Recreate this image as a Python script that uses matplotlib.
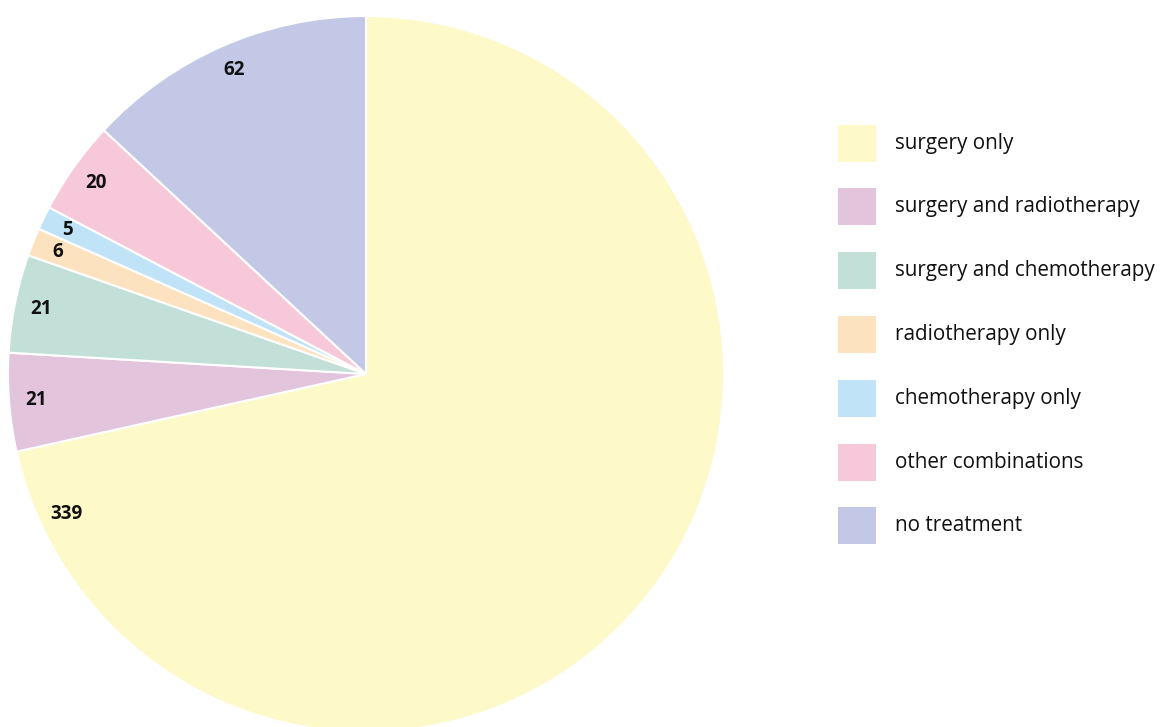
import numpy as np
import matplotlib
matplotlib.use("Agg")
import matplotlib.pyplot as plt
from matplotlib.patches import Rectangle

# Treatment groups and patient counts.
categories = [
    "surgery only",
    "surgery and radiotherapy",
    "surgery and chemotherapy",
    "radiotherapy only",
    "chemotherapy only",
    "other combinations",
    "no treatment",
]
counts = [339, 21, 21, 6, 5, 20, 62]
colors = ["#fdf9c9", "#e2c4dc", "#c2e0d8", "#fde2c0", "#c0e3f7", "#f7c8da", "#c2c8e6"]

W, H = 1166, 727
plt.rcParams["font.family"] = ["Open Sans", "DejaVu Sans"]

fig = plt.figure(figsize=(W / 100, H / 100), dpi=100)

# Pie axes: centre around (365, 374) px, radius ~358 px.
cx, cy, r = 366, 374, 358
ax = fig.add_axes([(cx - r) / W, (H - cy - r) / H, 2 * r / W, 2 * r / H])

wedges, _ = ax.pie(
    counts,
    colors=colors,
    startangle=90,
    counterclock=False,
    radius=1,
    wedgeprops=dict(edgecolor="white", linewidth=1.5),
)
ax.set_xlim(-1, 1)
ax.set_ylim(-1, 1)
ax.set_aspect("equal")
ax.axis("off")

# Value labels inside each slice, near the rim.
total = sum(counts)
start = 0.0
for value in counts:
    span = value / total * 360
    if span > 180:
        # big slice: label sits close to its trailing edge
        ang = start + span - 12.5
    else:
        ang = start + span / 2
    theta = np.radians(90 - ang)
    ax.text(
        0.925 * np.cos(theta),
        0.925 * np.sin(theta),
        str(value),
        ha="center",
        va="center",
        fontsize=13.5,
        fontweight="bold",
        color="#111111",
    )
    start += span

# Legend drawn by hand so boxes and spacing match.
row_y0, row_step = 143, 63.8
for i, (name, col) in enumerate(zip(categories, colors)):
    y = row_y0 + i * row_step
    fig.add_artist(
        Rectangle(
            (838 / W, (H - y - 18.5) / H),
            38 / W,
            37 / H,
            transform=fig.transFigure,
            facecolor=col,
            edgecolor="none",
        )
    )
    fig.text(895 / W, (H - y) / H, name, ha="left", va="center", fontsize=14.9, color="#111111")

fig.savefig("out.png", dpi=100)
